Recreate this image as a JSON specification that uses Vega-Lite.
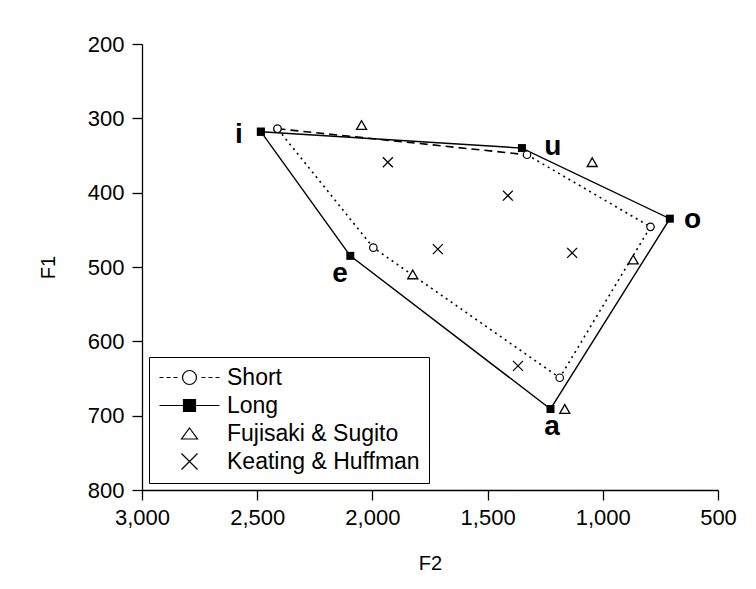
{
  "$schema": "https://vega.github.io/schema/vega-lite/v6.json",
  "width": 576,
  "height": 446,
  "autosize": {"type": "none"},
  "padding": {"left": 142, "top": 44, "right": 38, "bottom": 99},
  "background": "white",
  "config": {
    "view": {"stroke": null},
    "font": "Liberation Sans",
    "axis": {
      "grid": false,
      "domainColor": "black",
      "domainWidth": 1.3,
      "tickColor": "black",
      "tickWidth": 1.3,
      "tickSize": 10,
      "labelColor": "black",
      "labelFont": "Liberation Sans",
      "labelFontSize": 22,
      "labelFlush": false,
      "labelOverlap": false,
      "titleColor": "black",
      "titleFont": "Liberation Sans",
      "titleFontSize": 20,
      "titleFontWeight": "normal"
    }
  },
  "datasets": {
    "allpts": [
      {"series": "Long", "vowel": "i", "order": 1, "F2": 2484, "F1": 318},
      {"series": "Long", "vowel": "u", "order": 2, "F2": 1351, "F1": 340},
      {"series": "Long", "vowel": "o", "order": 3, "F2": 709, "F1": 435},
      {"series": "Long", "vowel": "a", "order": 4, "F2": 1227, "F1": 691},
      {"series": "Long", "vowel": "e", "order": 5, "F2": 2096, "F1": 485},
      {"series": "Long", "vowel": "i", "order": 6, "F2": 2484, "F1": 318},
      {"series": "Short", "vowel": "i", "order": 1, "F2": 2412, "F1": 314},
      {"series": "Short", "vowel": "u", "order": 2, "F2": 1329, "F1": 349},
      {"series": "Short", "vowel": "o", "order": 3, "F2": 793, "F1": 446},
      {"series": "Short", "vowel": "a", "order": 4, "F2": 1187, "F1": 649},
      {"series": "Short", "vowel": "e", "order": 5, "F2": 1996, "F1": 474},
      {"series": "Short", "vowel": "i", "order": 6, "F2": 2412, "F1": 314},
      {"series": "Fujisaki & Sugito", "F2": 2047, "F1": 309},
      {"series": "Fujisaki & Sugito", "F2": 1046, "F1": 359},
      {"series": "Fujisaki & Sugito", "F2": 868, "F1": 490},
      {"series": "Fujisaki & Sugito", "F2": 1825, "F1": 510},
      {"series": "Fujisaki & Sugito", "F2": 1165, "F1": 691},
      {"series": "Keating & Huffman", "F2": 1933, "F1": 359},
      {"series": "Keating & Huffman", "F2": 1412, "F1": 404},
      {"series": "Keating & Huffman", "F2": 1716, "F1": 476},
      {"series": "Keating & Huffman", "F2": 1133, "F1": 481},
      {"series": "Keating & Huffman", "F2": 1368, "F1": 633}
    ],
    "labels": [
      {"vowel": "i", "F2": 2580, "F1": 333},
      {"vowel": "u", "F2": 1217, "F1": 349},
      {"vowel": "o", "F2": 610, "F1": 448},
      {"vowel": "a", "F2": 1220, "F1": 726},
      {"vowel": "e", "F2": 2140, "F1": 520}
    ]
  },
  "encoding": {
    "x": {
      "field": "F2", "type": "quantitative",
      "scale": {"domain": [500, 3000], "reverse": true, "nice": false, "zero": false},
      "axis": {"title": "F2", "values": [500, 1000, 1500, 2000, 2500, 3000], "format": ",d", "labelPadding": 7, "titlePadding": 25}
    },
    "y": {
      "field": "F1", "type": "quantitative",
      "scale": {"domain": [200, 800], "reverse": true, "nice": false, "zero": false},
      "axis": {"title": "F1", "values": [200, 300, 400, 500, 600, 700, 800], "labelPadding": 8, "titlePadding": 29}
    }
  },
  "layer": [
    {
      "data": {"name": "allpts"},
      "transform": [{"filter": "datum.series == 'Long'"}],
      "mark": {"type": "line", "color": "black", "strokeWidth": 1.4},
      "encoding": {"order": {"field": "order", "type": "quantitative"}}
    },
    {
      "data": {"name": "allpts"},
      "transform": [{"filter": "datum.series == 'Short' && datum.order >= 2"}],
      "mark": {"type": "line", "color": "black", "strokeWidth": 1.6, "strokeDash": [2, 4]},
      "encoding": {"order": {"field": "order", "type": "quantitative"}}
    },
    {
      "data": {"name": "allpts"},
      "transform": [{"filter": "datum.series == 'Short' && datum.order <= 2"}],
      "mark": {"type": "line", "color": "black", "strokeWidth": 1.6, "strokeDash": [8, 5]},
      "encoding": {"order": {"field": "order", "type": "quantitative"}}
    },
    {
      "data": {"name": "allpts"},
      "transform": [{"filter": "datum.series == 'Long'"}],
      "mark": {"type": "point", "shape": "square", "filled": true, "color": "black", "size": 64, "opacity": 1}
    },
    {
      "data": {"name": "allpts"},
      "transform": [{"filter": "datum.series == 'Short'"}],
      "mark": {"type": "point", "shape": "circle", "fill": "white", "stroke": "black", "strokeWidth": 1.2, "size": 56, "opacity": 1}
    },
    {
      "data": {"name": "allpts"},
      "transform": [{"filter": "datum.series == 'Fujisaki & Sugito'"}],
      "mark": {"type": "point", "shape": "triangle-up", "fill": "white", "stroke": "black", "strokeWidth": 1.3, "size": 100, "opacity": 1}
    },
    {
      "data": {"name": "allpts"},
      "transform": [{"filter": "datum.series == 'Keating & Huffman'"}],
      "mark": {"type": "point", "shape": "M-1,-1L1,1M-1,1L1,-1", "filled": false, "stroke": "black", "strokeWidth": 1.3, "size": 100, "opacity": 1}
    },
    {
      "data": {"name": "labels"},
      "mark": {"type": "text", "font": "Liberation Sans", "fontWeight": "bold", "fontSize": 28, "align": "center", "baseline": "alphabetic", "color": "black"},
      "encoding": {"text": {"field": "vowel", "type": "nominal"}}
    },
    {
      "data": {"name": "allpts"},
      "mark": {"type": "point", "opacity": 0, "size": 10, "strokeWidth": 1.2},
      "encoding": {
        "shape": {
          "field": "series", "type": "nominal",
          "scale": {
            "domain": ["Short", "Long", "Fujisaki & Sugito", "Keating & Huffman"],
            "range": [
              "M-3,0L-2.6,0M-2.3,0L-1.9,0M-1.6,0L-1.2,0M-0.7,0A0.7,0.7 0 1 1 0.7,0A0.7,0.7 0 1 1 -0.7,0M1.2,0L1.6,0M1.9,0L2.3,0M2.6,0L3,0",
              "M-3,0L3,0M-0.6,-0.6L0.6,-0.6L0.6,0.6L-0.6,0.6Z",
              "M0,-0.55L0.8,0.55L-0.8,0.55Z",
              "M-0.8,-0.8L0.8,0.8M-0.8,0.8L0.8,-0.8"
            ]
          },
          "legend": {"title": null, "orient": "bottom-left", "offset": 7, "strokeColor": "black", "padding": 9, "symbolSize": 400, "symbolOffset": 20, "symbolStrokeColor": "black", "symbolStrokeWidth": 1.2, "symbolOpacity": 1, "labelFontSize": 23, "labelFont": "Liberation Sans", "labelColor": "black", "labelOffset": 26, "rowPadding": 4, "labelLimit": 400}
        },
        "fill": {
          "field": "series", "type": "nominal",
          "scale": {
            "domain": ["Short", "Long", "Fujisaki & Sugito", "Keating & Huffman"],
            "range": ["white", "black", "white", "white"]
          },
          "legend": {"title": null, "orient": "bottom-left", "offset": 7, "strokeColor": "black", "padding": 9, "symbolSize": 400, "symbolOffset": 20, "symbolStrokeColor": "black", "symbolStrokeWidth": 1.2, "symbolOpacity": 1, "labelFontSize": 23, "labelFont": "Liberation Sans", "labelColor": "black", "labelOffset": 26, "rowPadding": 4, "labelLimit": 400}
        },
        "stroke": {
          "field": "series", "type": "nominal",
          "scale": {
            "domain": ["Short", "Long", "Fujisaki & Sugito", "Keating & Huffman"],
            "range": ["black", "black", "black", "black"]
          },
          "legend": {"title": null, "orient": "bottom-left", "offset": 7, "strokeColor": "black", "padding": 9, "symbolSize": 400, "symbolOffset": 20, "symbolStrokeColor": "black", "symbolStrokeWidth": 1.2, "symbolOpacity": 1, "labelFontSize": 23, "labelFont": "Liberation Sans", "labelColor": "black", "labelOffset": 26, "rowPadding": 4, "labelLimit": 400}
        }
      }
    }
  ]
}
